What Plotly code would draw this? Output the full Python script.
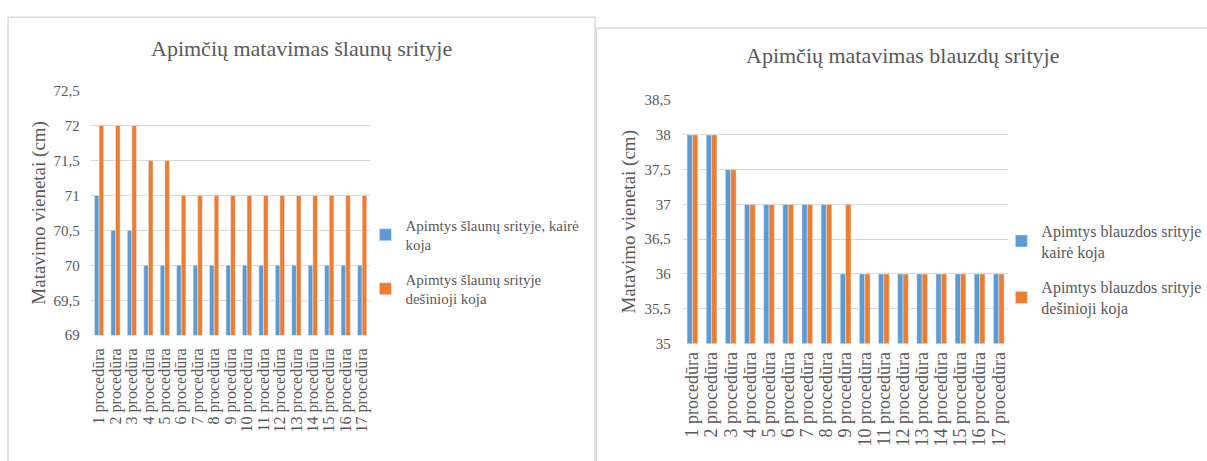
import plotly.graph_objects as go

# Procedure labels shared by both charts
procedures = [f"{i} procedūra" for i in range(1, 18)]

# Thigh circumference (cm)
slaunys_kaire = [71, 70.5, 70.5, 70, 70, 70, 70, 70, 70, 70, 70, 70, 70, 70, 70, 70, 70]
slaunys_desine = [72, 72, 72, 71.5, 71.5, 71, 71, 71, 71, 71, 71, 71, 71, 71, 71, 71, 71]

# Calf circumference (cm)
blauzdos_kaire = [38, 38, 37.5, 37, 37, 37, 37, 37, 36, 36, 36, 36, 36, 36, 36, 36, 36]
blauzdos_desine = [38, 38, 37.5, 37, 37, 37, 37, 37, 37, 36, 36, 36, 36, 36, 36, 36, 36]

W, H = 1207, 461
BLUE = "#5B9BD5"
ORANGE = "#ED7D31"
GREY = "#595959"
GRID = "#D9D9D9"
FONT = "Liberation Serif"


def px_x(x):
    return x / W


def px_y(y):
    return 1 - y / H


fig = go.Figure()

fig.add_trace(go.Bar(x=procedures, y=slaunys_kaire, name="Apimtys šlaunų srityje, kairė<br>koja",
                     marker_color=BLUE, xaxis="x", yaxis="y", legend="legend", legendgroup="a"))
fig.add_trace(go.Bar(x=procedures, y=slaunys_desine, name="Apimtys šlaunų srityje<br>dešinioji koja",
                     marker_color=ORANGE, xaxis="x", yaxis="y", legend="legend", legendgroup="b"))
fig.add_trace(go.Bar(x=procedures, y=blauzdos_kaire, name="Apimtys blauzdos srityje<br>kairė koja",
                     marker_color=BLUE, xaxis="x2", yaxis="y2", legend="legend2", legendgroup="c"))
fig.add_trace(go.Bar(x=procedures, y=blauzdos_desine, name="Apimtys blauzdos srityje<br>dešinioji koja",
                     marker_color=ORANGE, xaxis="x2", yaxis="y2", legend="legend2", legendgroup="d"))

xcommon = dict(type="category", tickangle=-90, showgrid=False, showline=False, ticks="",
               tickmode="array", tickvals=procedures, ticktext=procedures)
ycommon = dict(dtick=0.5, showgrid=True, gridcolor=GRID, gridwidth=1, zeroline=False,
               showline=False, ticks="", tickfont=dict(family=FONT, size=15, color=GREY))
ytitle = dict(text="Matavimo vienetai (cm)", font=dict(family=FONT, size=19, color=GREY))

legend_common = dict(bgcolor="rgba(0,0,0,0)", traceorder="grouped", tracegroupgap=12,
                     xanchor="left", yanchor="top", itemwidth=30, borderwidth=0)

fig.update_layout(
    width=W, height=H,
    margin=dict(l=0, r=0, t=0, b=0),
    paper_bgcolor="white", plot_bgcolor="white",
    separators=", ",
    barmode="group", bargap=0.44, bargroupgap=0,
    xaxis=dict(domain=[px_x(90), px_x(370)], anchor="y", ticklabelstandoff=9,
               tickfont=dict(family=FONT, size=16, color=GREY), **xcommon),
    yaxis=dict(domain=[px_y(339), px_y(85.5)], anchor="x", range=[69, 72.5], tick0=69,
               ticklabelstandoff=10, title=dict(standoff=2, **ytitle), **ycommon),
    xaxis2=dict(domain=[px_x(683), px_x(1009)], anchor="y2", ticklabelstandoff=4,
                tickfont=dict(family=FONT, size=18, color=GREY), **xcommon),
    yaxis2=dict(domain=[px_y(347.5), px_y(95.5)], anchor="x2", range=[35, 38.5], tick0=35,
                ticklabelstandoff=11, title=dict(standoff=3, **ytitle), **ycommon),
    legend=dict(x=px_x(365), y=px_y(208), font=dict(family=FONT, size=15, color=GREY), **legend_common),
    legend2=dict(x=px_x(1002), y=px_y(213), font=dict(family=FONT, size=16, color=GREY), **legend_common),
    showlegend=True,
    annotations=[
        dict(text="Apimčių matavimas šlaunų srityje", x=px_x(301), y=px_y(42), xref="paper", yref="paper",
             showarrow=False, font=dict(family=FONT, size=22, color=GREY), xanchor="center", yanchor="middle"),
        dict(text="Apimčių matavimas blauzdų srityje", x=px_x(903), y=px_y(49), xref="paper", yref="paper",
             showarrow=False, font=dict(family=FONT, size=22, color=GREY), xanchor="center", yanchor="middle"),
    ],
    shapes=[
        # chart frames
        dict(type="rect", xref="paper", yref="paper", x0=px_x(7), x1=px_x(595), y0=px_y(475), y1=px_y(9.5),
             line=dict(color=GRID, width=1.5), layer="below"),
        dict(type="rect", xref="paper", yref="paper", x0=px_x(596.5), x1=px_x(1220), y0=px_y(475), y1=px_y(21),
             line=dict(color=GRID, width=1.5), layer="below"),
    ],
)

fig.write_html("out.html")
